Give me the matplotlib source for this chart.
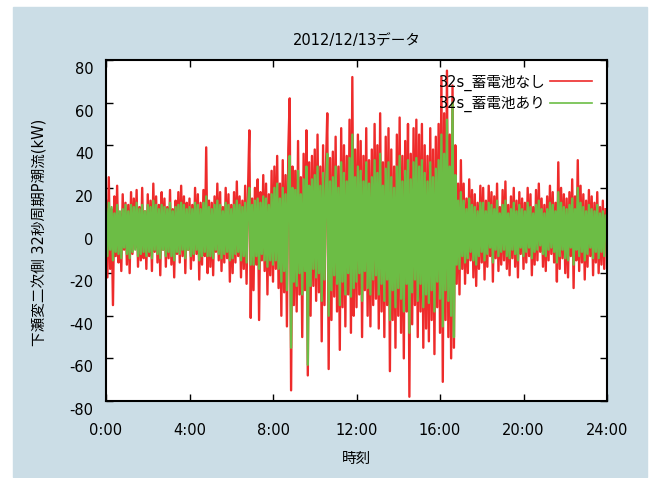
import numpy as np
import matplotlib
matplotlib.use('Agg')
import matplotlib.pyplot as plt
from matplotlib.patches import Rectangle
from matplotlib.transforms import ScaledTranslation

plt.rcParams['font.family'] = ['DejaVu Sans', 'Noto Sans CJK JP']
plt.rcParams['axes.unicode_minus'] = False

# 32s period power flow, sampled here every 4 minutes (15 values per hour)
red = [
    14, -22, 25, -18, 10, -35, 16, -12, 21, -15, 8, -19, 17, -9, 13,
    -16, 12, -20, 18, -11, 15, -8, 19, -17, 11, -14, 20, -13, 9, -18,
    17, -12, 14, -19, 22, -10, 16, -15, 12, -21, 18, -9, 15, -17, 11,
    -13, 19, -16, 10, -22, 14, -11, 18, -15, 21, -12, 16, -20, 13, -9,
    15, -18, 12, -14, 20, -11, 17, -23, 13, -16, 19, -12, 39, -20, 14,
    -17, 13, -21, 16, -10, 22, -14, 18, -19, 11, -15, 20, -13, 17, -24,
    12, -20, 18, -15, 23, -12, 16, -22, 14, -18, 21, -25, 17, 47, -41,
    15, -28, 20, -16, 24, -42, 18, -14, 26, -19, 22, -30, 17, -21, 28,
    -24, 30, -18, 35, -27, 22, -40, 33, -29, 26, -45, 38, 62, -75, 30,
    -35, 28, -38, 42, -30, 25, -50, 36, -28, 47, -68, 32, -40, 35, -26,
    38, -33, 45, -29, 30, -52, 40, -35, 28, 55, -65, 34, -42, 37, -31,
    44, -38, 30, -56, 48, -36, 40, -45, 35, -30, 52, -48, 72, -40, 38,
    -36, 45, -30, 42, -50, 35, -28, 48, -40, 33, -45, 38, -35, 50, -32,
    40, -46, 55, -38, 32, -50, 44, -35, 48, -66, 38, -42, 30, -55, 45,
    -40, 53, -48, 35, -60, 42, -38, 50, -78, 36, -44, 48, -35, 52, -50,
    45, -38, 50, -55, 40, -46, 35, -52, 48, -42, 38, -58, 44, -36, 50,
    -48, 72, -71, 55, -42, 75, -50, 45, -60, 68, -55, 40, -25, 22, -30,
    33, -18, 22, -25, 15, -20, 24, -14, 19, -22, 17, -26, 13, -18, 21,
    -15, 20, -23, 14, -17, 21, -12, 18, -24, 16, -13, 22, -19, 11, -16,
    19, -14, 23, -18, 12, -21, 16, -13, 20, -17, 14, -22, 18, -11, 15,
    -18, 13, -15, 20, -12, 17, -21, 11, -16, 19, -14, 22, -10, 15, -17,
    12, -19, 16, -14, 21, -11, 18, -15, 13, -24, 32, -18, 20, -13, 17,
    -20, 15, -22, 18, -12, 24, -27, 16, -14, 33, -19, 21, -15, 17, -23,
    14, -17, 19, -12, 16, -21, 13, -15, 18, -20, 11, -16, 14, -18, 10,
]

green = [
    10, -12, 13, -9, 11, -14, 8, -10, 12, -11, 9, -13, 10, -8, 12,
    -11, 9, -13, 12, -10, 11, -9, 13, -12, 10, -11, 12, -10, 9, -12,
    12, -10, 11, -13, 14, -9, 12, -11, 10, -13, 12, -9, 11, -12, 10,
    -10, 13, -12, 9, -14, 11, -10, 12, -11, 13, -9, 12, -13, 10, -9,
    11, -12, 10, -11, 13, -9, 12, -14, 10, -12, 13, -10, 16, -12, 11,
    -12, 10, -13, 12, -9, 14, -11, 12, -13, 9, -11, 13, -10, 12, -14,
    10, -13, 12, -11, 14, -10, 12, -14, 11, -12, 13, -15, 12, 20, -16,
    12, -16, 14, -12, 15, -18, 13, -11, 16, -14, 15, -17, 12, -14, 17,
    -16, 20, -14, 22, -18, 15, -24, 20, -19, 17, -28, 22, 35, -55, 20,
    -24, 19, -26, 28, -20, 17, -30, 24, -19, 30, -63, 21, -26, 24, -18,
    26, -22, 30, -20, 21, -33, 27, -23, 19, 36, -40, 23, -28, 25, -21,
    30, -25, 20, -35, 32, -24, 27, -30, 23, -20, 34, -31, 45, -27, 25,
    -24, 30, -20, 28, -33, 23, -19, 32, -27, 22, -30, 25, -23, 33, -21,
    27, -30, 36, -25, 21, -33, 29, -23, 32, -42, 25, -28, 20, -36, 30,
    -27, 35, -32, 23, -38, 28, -25, 33, -48, 24, -29, 32, -23, 34, -33,
    30, -25, 33, -36, 27, -30, 23, -34, 32, -28, 25, -38, 29, -24, 33,
    -32, 45, -45, 36, -28, 52, -33, 30, -40, 60, -50, 26, -16, 14, -18,
    18, -12, 14, -15, 10, -13, 15, -10, 12, -14, 11, -16, 9, -12, 13,
    -10, 13, -14, 9, -11, 13, -8, 12, -15, 10, -9, 14, -12, 8, -10,
    12, -9, 14, -12, 8, -13, 10, -9, 13, -11, 9, -14, 12, -8, 10,
    -12, 9, -10, 13, -8, 11, -13, 8, -10, 12, -9, 14, -7, 10, -11,
    8, -12, 10, -9, 13, -8, 12, -10, 9, -15, 18, -12, 13, -9, 11,
    -13, 10, -14, 12, -8, 15, -16, 10, -9, 20, -12, 13, -10, 11, -14,
    9, -11, 12, -8, 10, -13, 9, -10, 12, -13, 8, -10, 9, -12, 7,
]

step_min = 4
hours = np.arange(len(red)) * step_min / 60.0

xtick_pos = [0, 4, 8, 12, 16, 20, 24]
xtick_labels = ['0:00', '4:00', '8:00', '12:00', '16:00', '20:00', '24:00']
ytick_pos = list(range(-80, 81, 20))

W, H = 654, 478
fig = plt.figure(figsize=(W / 100, H / 100), dpi=100)
fig.patch.set_facecolor('white')
fig.add_artist(Rectangle((13 / W, 1 - 477 / H), 634 / W, 470 / H,
                         transform=fig.transFigure, color='#cbdde6', zorder=0))

ax = fig.add_axes([106 / W, 1 - 401 / H, 501 / W, 341 / H])
ax.set_facecolor('white')

ax.plot(hours, red, color='#ee2b2b', lw=1.7, label='32s_蓄電池なし')
ax.plot(hours, green, color='#6cbd45', lw=1.7, label='32s_蓄電池あり')

ax.set_xlim(0, 24)
ax.set_ylim(-80, 80)
ax.set_xticks(xtick_pos)
ax.set_xticklabels(xtick_labels)
ax.set_yticks(ytick_pos)
ax.tick_params(direction='in', length=5, width=1, top=True, right=True,
               labelsize=10.5, colors='black')
ax.tick_params(axis='x', pad=16)
ax.tick_params(axis='y', pad=9)
for lab in ax.get_yticklabels():
    lab.set_transform(lab.get_transform() + ScaledTranslation(0, -0.08, fig.dpi_scale_trans))
for sp in ax.spines.values():
    sp.set_linewidth(1.5)

fig.text(357 / W, 1 - 40 / H, '2012/12/13データ', ha='center', va='center', fontsize=10.5)
fig.text(357 / W, 1 - 458 / H, '時刻', ha='center', va='center', fontsize=10.5)
fig.text(40 / W, 1 - 232 / H, '下瀬変二次側 32秒周期P潮流(kW)', ha='center', va='center',
         rotation=90, fontsize=10.5)

leg = ax.legend(loc='upper right', frameon=False, markerfirst=False, fontsize=10.5,
                handlelength=2.9, handletextpad=0.3, labelspacing=0.35,
                borderaxespad=0.6)
for line in leg.get_lines():
    line.set_linewidth(1.2)

fig.savefig('out.png', dpi=100)
